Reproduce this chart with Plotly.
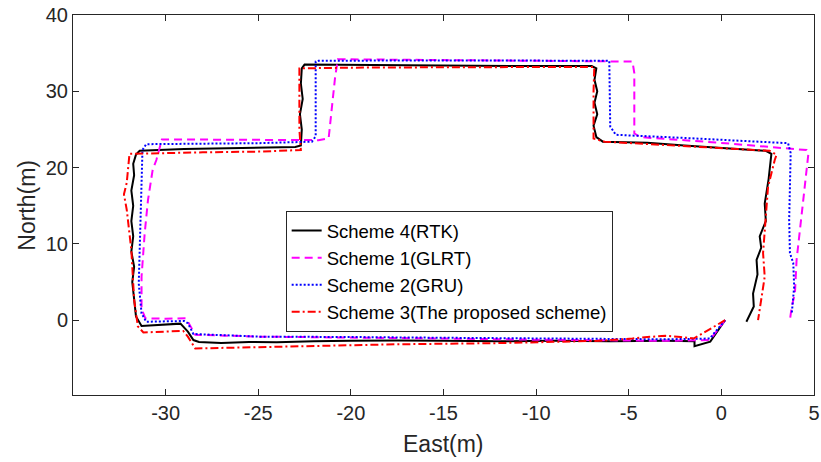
import plotly.graph_objects as go

# Scheme 4 (RTK) - reference trajectory
rtk_east = [0.2, -0.6, -1.45, -1.45, -3, -6, -9, -12, -15, -17.5, -20, -22, -24, -25.5, -27, -28.2, -28.5, -28.8,
            -29.2, -30.2, -31.3, -31.6, -31.7, -31.8, -31.7, -31.85, -31.75, -31.85, -31.75, -31.85, -31.7, -31.75,
            -31.6, -31.4, -29, -27, -25, -23, -22.7, -22.65, -22.75, -22.6, -22.7, -22.65, -22.5, -20, -15, -10,
            -7.0, -6.75, -6.85, -6.7, -6.85, -6.7, -6.9, -6.75, -6.4, -4, -2, 0, 2.4, 2.7, 2.65, 2.55, 2.34, 2.4,
            2.07, 2.15, 1.9, 1.95, 1.71, 1.75, 1.35]
rtk_north = [0.0, -2.8, -3.4, -2.75, -2.7, -2.75, -2.7, -2.75, -2.7, -2.65, -2.7, -2.75, -2.9, -2.85, -3.0, -2.85,
             -2.6, -1.5, -0.45, -0.55, -0.75, 0.5, 3, 5, 7, 9, 11, 13, 15, 17, 19, 20.5, 21.7, 22.2, 22.45, 22.5,
             22.65, 22.7, 22.9, 25, 27, 29, 31, 33, 33.5, 33.45, 33.4, 33.3, 33.3, 33, 31.5, 30, 28.5, 27, 25.5, 24,
             23.4, 23.25, 22.9, 22.6, 22.2, 21.8, 20.6, 18.5, 15.3, 13, 11, 9.5, 7.9, 6, 3.5, 1.8, -0.2]

# Scheme 1 (GLRT)
glrt_east = [0.2, -0.63, -3, -6, -10, -15, -20, -25, -28.4, -28.9, -30, -31.1, -31.3, -31.3, -31.13, -30.95, -30.7,
             -30.5, -30.2, -25, -21.75, -21.2, -20.85, -20.7, -15, -10, -4.8, -4.7, -4.7, -4.4, -0.3, 4.6, 4.7, 4.5,
             4.24, 4.06, 3.97, 3.8, 3.7]
glrt_north = [0.0, -2.6, -2.7, -2.65, -2.55, -2.4, -2.25, -2.15, -1.9, 0.26, 0.2, 0.26, 1.5, 5.7, 11.4, 15.8, 19.7,
              21.0, 23.7, 23.65, 23.6, 23.85, 31.9, 34.2, 34.1, 34.0, 33.9, 32.4, 24.5, 24.0, 23.3, 22.3, 21.9, 17.5,
              11.8, 7.9, 3.5, 1.8, 0.0]

# Scheme 2 (GRU)
gru_east = [0.2, -0.63, -3, -8, -15, -20, -25, -28.5, -28.8, -29, -31.05, -31.3, -31.45, -31.4, -31.3, -31.25,
            -31.05, -25, -22.1, -21.9, -21.9, -21.75, -15, -10, -6.05, -6.0, -5.7, -2.1, 3.6, 3.74, 3.7, 3.66, 3.7,
            3.88, 3.93, 3.8]
gru_north = [0.0, -2.4, -2.5, -2.45, -2.3, -2.2, -2.15, -1.8, -0.4, -0.1, -0.2, 0.9, 4.8, 9.2, 20.1, 22.3, 23.07,
             23.2, 23.4, 24.1, 33.9, 34.0, 34.05, 34.05, 34.0, 25.4, 24.3, 23.9, 23.2, 21.9, 17.5, 13.1, 8.8, 7.5,
             4.4, 0.9]

# Scheme 3 (The proposed scheme)
prop_east = [0.2, -0.5, -1.5, -2.2, -3, -4, -4.8, -6.6, -9, -12, -17.4, -22, -26, -28.4, -28.8, -29.05, -31.2,
             -31.5, -31.7, -31.85, -32.1, -32.25, -32.1, -32.0, -31.95, -28, -25, -22.7, -22.78, -22.78, -20, -15,
             -10, -6.86, -6.9, -6.9, -6.3, -2.1, 2.6, 2.98, 2.88, 2.52, 2.4, 2.25, 2.34, 1.98]
prop_north = [0.0, -1.0, -2.4, -2.2, -2.05, -2.2, -2.4, -2.7, -2.85, -3.0, -3.15, -3.4, -3.6, -3.7, -2.15, -1.4,
              -1.6, -0.8, 2.7, 9.2, 14.5, 16.5, 18, 21, 21.8, 22.0, 22.1, 22.3, 25, 33.0, 33.1, 33.15, 33.2, 33.2,
              30, 23.8, 23.4, 22.8, 22.2, 21.7, 21.0, 17.5, 13.1, 8.8, 5.7, 0.0]

x_ticks = [-30, -25, -20, -15, -10, -5, 0, 5]
y_ticks = [0, 10, 20, 30, 40]

FONT = "Liberation Sans, Arial, sans-serif"
AXC = "#262626"

fig = go.Figure()
fig.add_trace(go.Scatter(x=rtk_east, y=rtk_north, mode="lines", name="Scheme 4(RTK)",
                         line=dict(color="black", width=2)))
fig.add_trace(go.Scatter(x=glrt_east, y=glrt_north, mode="lines", name="Scheme 1(GLRT)",
                         line=dict(color="#FF00FF", width=2, dash="8px,5px")))
fig.add_trace(go.Scatter(x=gru_east, y=gru_north, mode="lines", name="Scheme 2(GRU)",
                         line=dict(color="#0000FF", width=2, dash="2px,2px")))
fig.add_trace(go.Scatter(x=prop_east, y=prop_north, mode="lines", name="Scheme 3(The proposed scheme)",
                         line=dict(color="#FF0000", width=2, dash="8px,3px,2px,3px")))

axis_common = dict(showgrid=False, zeroline=False, showline=True, linecolor=AXC, linewidth=1,
                   mirror="ticks", ticks="inside", ticklen=6, tickcolor=AXC, automargin=False,
                   tickfont=dict(family=FONT, size=20, color=AXC))

fig.update_xaxes(range=[-35, 5], tickvals=x_ticks, ticktext=[str(v) for v in x_ticks], **axis_common)
fig.update_yaxes(range=[-9.8, 40], tickvals=y_ticks, ticktext=[str(v) for v in y_ticks], **axis_common)

fig.update_layout(
    width=821, height=462,
    margin=dict(l=73, r=7, t=15, b=67, autoexpand=False),
    plot_bgcolor="white", paper_bgcolor="white",
    legend=dict(x=0.287, y=0.484, xanchor="left", yanchor="top",
                bgcolor="white", bordercolor=AXC, borderwidth=1,
                font=dict(family=FONT, size=18.5, color="black"),
                tracegroupgap=0, itemwidth=30),
    showlegend=True,
    annotations=[
        dict(text="East(m)", xref="paper", yref="paper", x=0.5, y=-0.13, xanchor="center", yanchor="middle",
             showarrow=False, font=dict(family=FONT, size=23, color=AXC)),
        dict(text="North(m)", xref="paper", yref="paper", x=-0.0625, y=0.5, xanchor="center", yanchor="middle",
             textangle=-90, showarrow=False, font=dict(family=FONT, size=23, color=AXC)),
    ],
)

fig.write_html("out.html", config={"displayModeBar": False},
               post_script="document.body.style.margin='0px';document.body.style.overflow='hidden';")
